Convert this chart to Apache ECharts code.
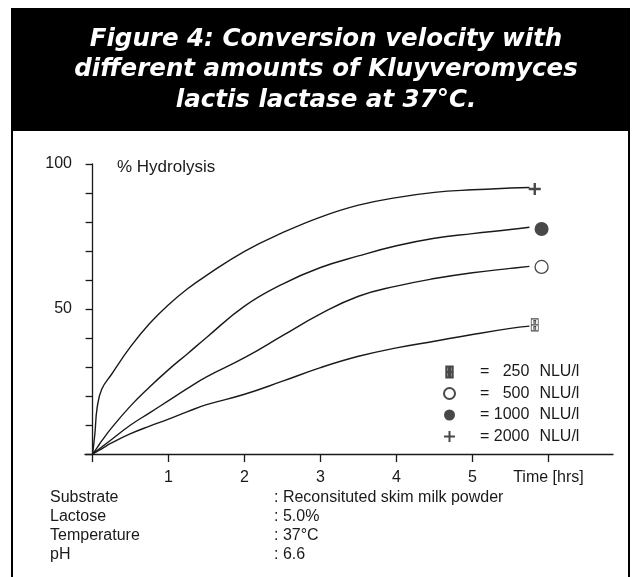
<!DOCTYPE html>
<html>
<head>
<meta charset="utf-8">
<script src="https://cdn.jsdelivr.net/npm/echarts@6/dist/echarts.min.js"></script>
<style>
  html, body { margin: 0; background: #fff; }
  #chart { width: 634px; height: 577px; }
</style>
</head>
<body>
<div id="chart"></div>
<script>
// values (time in hours, % hydrolysis)
const hours = [0, 0.03, 0.06, 0.12, 0.25, 0.5, 0.75, 1, 1.25, 1.5, 2, 2.5, 3, 3.5, 4, 4.5, 5, 5.5, 5.75]
const hydrolysis250 = [0, 0.45, 0.9, 1.8, 3.8, 7.0, 9.6, 12.0, 14.6, 17.0, 20.6, 25.1, 29.8, 33.7, 36.6, 38.9, 41.2, 43.3, 44.1]
const hydrolysis500 = [0, 0.6, 1.2, 2.4, 5.0, 10.0, 14.2, 18.4, 22.6, 26.6, 33.2, 40.8, 48.3, 54.4, 57.9, 60.5, 62.5, 64.0, 64.7]
const hydrolysis1000 = [0, 1.1, 2.2, 4.5, 9.0, 16.6, 23.1, 29.1, 34.6, 40.2, 51.0, 58.6, 64.3, 68.3, 71.8, 74.4, 76.0, 77.4, 78.2]
const hydrolysis2000 = [0, 7.0, 16.0, 22.3, 27.5, 37.0, 45.0, 51.5, 57.0, 61.6, 69.9, 76.3, 81.7, 85.8, 88.4, 90.2, 91.1, 91.7, 91.9]

const doses = [250, 500, 1000, 2000]
const markerHours = [5.82, 5.91, 5.91, 5.82]
const markerValues = [44.5, 64.5, 77.6, 91.4]

const xTicks = [0, 1, 2, 3, 4, 5, 6]
const xLabels = ['1', '2', '3', '4', '5', 'Time [hrs]']
const yLabels = [50, 100]

const titleLines = [
  'Figure 4: Conversion velocity with',
  'different amounts of Kluyveromyces',
  'lactis lactase at 37°C.'
]
const infoNames = ['Substrate', 'Lactose', 'Temperature', 'pH']
const infoValues = [': Reconsituted skim milk powder', ': 5.0%', ': 37°C', ': 6.6']

const ink = '#1a1a1a'
const font = 'Liberation Sans, Arial, sans-serif'
const curves = [hydrolysis250, hydrolysis500, hydrolysis1000, hydrolysis2000]

const markerStyles = [
  { symbol: 'path://M0,0H7V12H0Z M0,6H7 M2.5,1.8h2v2.4h-2Z M2.5,7.8h2v2.4h-2Z', symbolSize: [7, 12],
    itemStyle: { color: '#fff', borderColor: ink, borderWidth: 1 } },
  { symbol: 'circle', symbolSize: 13, itemStyle: { color: '#fff', borderColor: ink, borderWidth: 1.3 } },
  { symbol: 'circle', symbolSize: 14, itemStyle: { color: ink } },
  { symbol: 'path://M6,0V12M0,6H12', symbolSize: 12, itemStyle: { color: 'none', borderColor: ink, borderWidth: 2.4 } }
]

const lineSeries = curves.map((vals, i) => ({
  name: doses[i] + ' curve',
  type: 'line',
  data: hours.map((h, j) => [h, vals[j]]),
  showSymbol: false,
  smooth: 0.45,
  silent: true,
  lineStyle: { color: ink, width: 1.4 }
}))

const markerSeries = doses.map((d, i) => ({
  name: d + ' NLU/l',
  type: 'scatter',
  data: [[markerHours[i], markerValues[i]]],
  silent: true,
  ...markerStyles[i]
}))

// digits are two spaces wide in Arial, so short numbers get padded to line up right
const padDose = n => {
  const num = n.split(' ')[0]
  return ' ' + '  '.repeat(4 - num.length) + num
}

const chart = echarts.init(document.getElementById('chart'))
chart.setOption({
  animation: false,
  grid: { left: 85, right: 21, top: 164, bottom: 123 },
  xAxis: {
    type: 'value',
    min: -0.1,
    max: 6.85,
    splitLine: { show: false },
    axisLine: { lineStyle: { color: ink, width: 1.3 } },
    axisTick: { customValues: xTicks, length: 8, lineStyle: { color: ink, width: 1.3 } },
    axisLabel: {
      customValues: xTicks.slice(1),
      margin: 16,
      color: ink,
      fontFamily: font,
      fontSize: 16,
      formatter: v => xLabels[v - 1]
    }
  },
  yAxis: {
    type: 'value',
    min: 0,
    max: 100,
    interval: 10,
    splitLine: { show: false },
    axisLine: { show: true, onZero: true, lineStyle: { color: ink, width: 1.3 } },
    axisTick: { show: true, length: 7, lineStyle: { color: ink, width: 1.3 } },
    axisLabel: {
      customValues: yLabels,
      margin: 13,
      color: ink,
      fontFamily: font,
      fontSize: 16
    }
  },
  legend: {
    data: markerSeries.map(s => s.name),
    orient: 'vertical',
    left: 441.5,
    top: 363,
    padding: 0,
    itemWidth: 11,
    itemHeight: 11,
    itemGap: 3.5,
    selectedMode: false,
    formatter: n => `{eq|=}{num|${padDose(n)}}{unit|NLU/l}`,
    textStyle: {
      color: ink,
      fontFamily: font,
      fontSize: 16,
      lineHeight: 18,
      rich: {
        eq: { padding: [0, 0, 0, 20], fontSize: 16, fontFamily: font, color: ink },
        num: { fontSize: 16, fontFamily: font, color: ink },
        unit: { padding: [0, 0, 0, 10], fontSize: 16, fontFamily: font, color: ink }
      }
    }
  },
  graphic: [
    { type: 'rect', shape: { x: 12, y: 9, width: 617, height: 122 }, style: { fill: '#000' } },
    { type: 'rect', shape: { x: 12, y: 9, width: 617, height: 620 }, style: { fill: 'none', stroke: '#000', lineWidth: 2 } },
    {
      type: 'text', x: 326, y: 70,
      style: {
        text: titleLines.join('\n'), fill: '#fff', align: 'center', verticalAlign: 'middle',
        font: 'italic bold 24.5px "DejaVu Sans", sans-serif', lineHeight: 30.5
      }
    },
    {
      type: 'text', x: 117, y: 167,
      style: { text: '% Hydrolysis', fill: ink, verticalAlign: 'middle', font: '17px ' + font }
    },
    {
      type: 'text', x: 50, y: 488.3,
      style: { text: infoNames.join('\n'), fill: ink, font: '16px ' + font, lineHeight: 18.8 }
    },
    {
      type: 'text', x: 274, y: 488.3,
      style: { text: infoValues.join('\n'), fill: ink, font: '16px ' + font, lineHeight: 18.8 }
    }
  ],
  series: [...lineSeries, ...markerSeries]
})
</script>
</body>
</html>
